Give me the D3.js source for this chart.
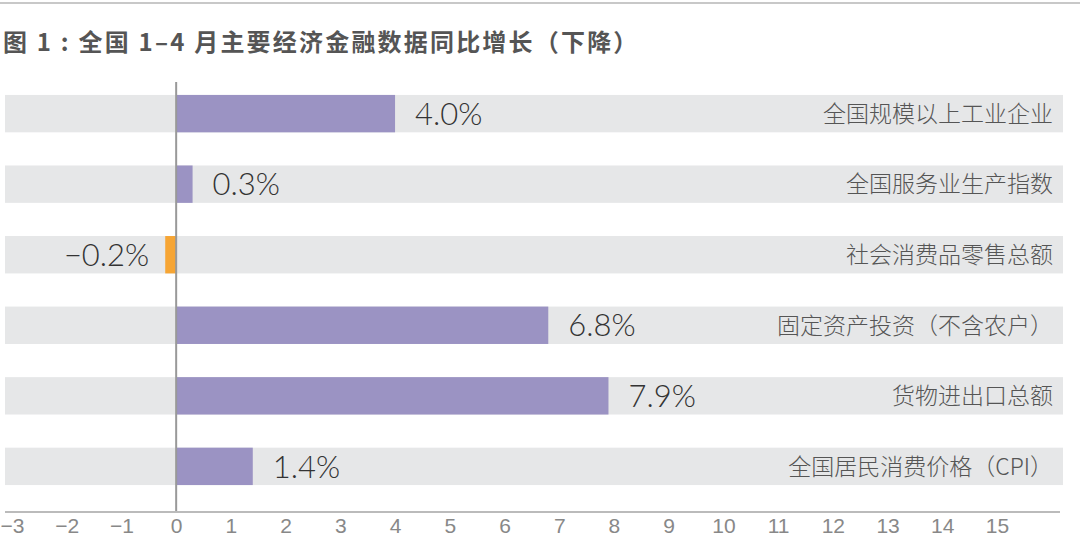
<!DOCTYPE html>
<html>
<head>
<meta charset="utf-8">
<script src="https://cdn.jsdelivr.net/npm/d3@7"></script>
<style>
  body { margin: 0; background: #fff; }
  svg { display: block; font-family: "Liberation Sans", "Noto Sans CJK SC", sans-serif; }
</style>
</head>
<body>
<div id="chart"></div>
<script>
const categories = ["全国规模以上工业企业", "全国服务业生产指数", "社会消费品零售总额",
    "固定资产投资（不含农户）", "货物进出口总额", "全国居民消费价格（CPI）"];
const values = [4.0, 0.3, -0.2, 6.8, 7.9, 1.4];
const labels = ["4.0%", "0.3%", "−0.2%", "6.8%", "7.9%", "1.4%"];
const ticks = [-3, -2, -1, 0, 1, 2, 3, 4, 5, 6, 7, 8, 9, 10, 11, 12, 13, 14, 15];

const width = 1080, height = 544;

const svg = d3.select("#chart")
    .append("svg")
    .attr("width", width)
    .attr("height", height);

// top rule
svg.append("line")
    .attr("x1", 0).attr("x2", width)
    .attr("y1", 3).attr("y2", 3)
    .attr("stroke", "#c8c8c8")
    .attr("stroke-width", 2);

svg.append("text")
    .attr("x", 3)
    .attr("y", 51)
    .text("图 1 : 全国 1–4 月主要经济金融数据同比增长（下降）")
    .style("font-family", "'Noto Sans CJK SC', sans-serif")
    .style("font-size", "24px")
    .style("font-weight", "bold")
    .style("letter-spacing", "2.2px")
    .attr("fill", "#555");

const x = d3.scaleLinear()
    .domain([-3, 15])
    .range([12, 997]);

const y = d3.scaleBand()
    .domain(categories)
    .range([78, 502])
    .paddingInner(0.47)
    .paddingOuter(0.24);

// grey bands
svg.selectAll(".band")
    .data(categories)
    .join("rect")
    .attr("class", "band")
    .attr("x", 5)
    .attr("width", 1058)
    .attr("y", d => y(d))
    .attr("height", y.bandwidth())
    .attr("fill", "#e6e7e8");

// bars
svg.selectAll(".bar")
    .data(values)
    .join("rect")
    .attr("class", "bar")
    .attr("x", d => x(Math.min(0, d)))
    .attr("width", d => Math.abs(x(d) - x(0)))
    .attr("y", (d, i) => y(categories[i]))
    .attr("height", y.bandwidth())
    .attr("fill", d => d < 0 ? "#f6a534" : "#9b93c3");

// zero line
svg.append("line")
    .attr("x1", x(0)).attr("x2", x(0))
    .attr("y1", 82).attr("y2", 512)
    .attr("stroke", "#999")
    .attr("stroke-width", 2);

// value labels
svg.selectAll(".val")
    .data(values)
    .join("text")
    .attr("class", "val")
    .attr("x", d => d < 0 ? x(d) - 16 : x(d) + 20)
    .attr("y", (d, i) => y(categories[i]) + y.bandwidth() / 2)
    .attr("dy", "0.36em")
    .attr("text-anchor", d => d < 0 ? "end" : "start")
    .text((d, i) => labels[i])
    .style("font-size", "31px")
    .style("font-family", "Lato, 'Open Sans', sans-serif")
    .style("font-weight", "300")
    .attr("fill", "#333");

// category labels
svg.selectAll(".cat")
    .data(categories)
    .join("text")
    .attr("class", "cat")
    .attr("x", 1053)
    .attr("y", d => y(d) + y.bandwidth() / 2)
    .attr("dy", "0.36em")
    .attr("text-anchor", "end")
    .text(d => d)
    .style("font-family", "'Noto Sans CJK SC', sans-serif")
    .style("font-size", "23px")
    .style("font-weight", "300")
    .attr("fill", "#555");

// bottom axis
const axis = svg.append("g")
    .attr("transform", "translate(0, 512)")
    .call(d3.axisBottom(x).tickValues(ticks).tickSize(0).tickPadding(6)
        .tickFormat(d => d < 0 ? "−" + Math.abs(d) : d));

axis.select(".domain").remove();
axis.append("line")
    .attr("x1", 5).attr("x2", 1060)
    .attr("stroke", "#bbb")
    .attr("stroke-width", 2);
axis.selectAll("text")
    .style("font-size", "21px")
    .style("font-family", "'Liberation Sans', sans-serif")
    .attr("fill", "#888");
</script>
</body>
</html>
